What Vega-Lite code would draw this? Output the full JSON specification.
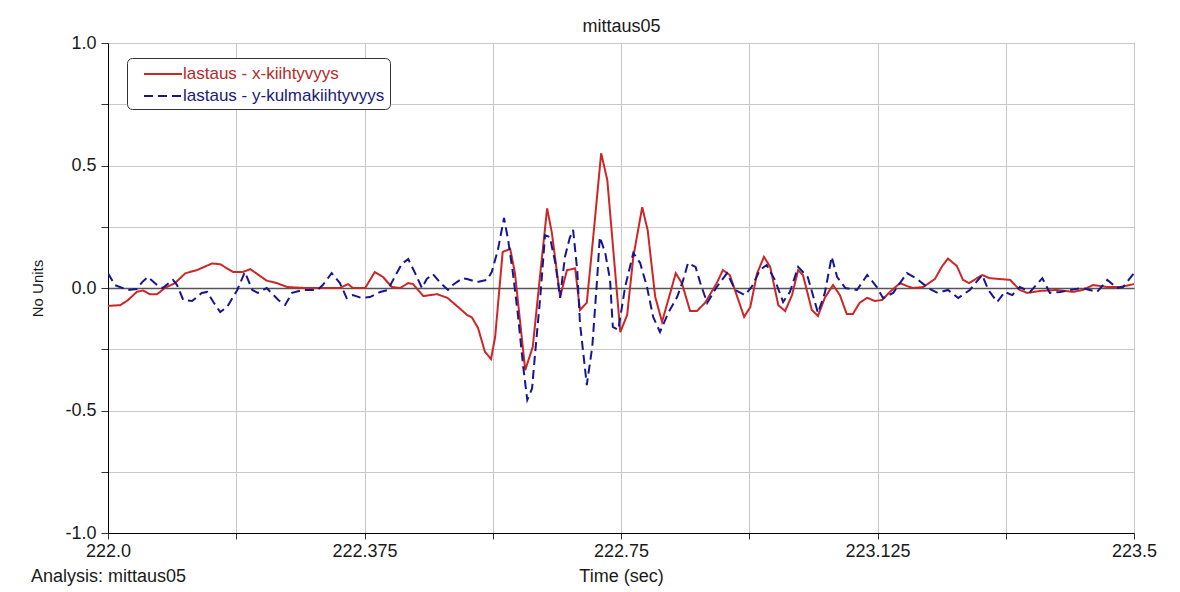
{
  "$schema": "https://vega.github.io/schema/vega-lite/v6.json",
  "autosize": {"type": "none"},
  "width": 1026,
  "height": 490,
  "padding": {"left": 108, "top": 43, "right": 46, "bottom": 59},
  "background": "white",
  "config": {
    "font": "Liberation Sans",
    "view": {"stroke": "#555555", "strokeWidth": 1},
    "axis": {"labelFont": "Liberation Sans", "titleFont": "Liberation Sans", "labelColor": "#1a1a1a", "titleColor": "#1a1a1a", "labelFontSize": 18, "titleFontSize": 18, "titleFontWeight": "normal", "gridColor": "#c8c8c8", "gridOpacity": 1, "gridWidth": 1, "domainColor": "#000000", "tickColor": "#333333"}
  },
  "title": {"text": "Analysis: mittaus05", "orient": "bottom", "anchor": "start", "frame": "bounds", "fontSize": 18, "fontWeight": "normal", "color": "#1a1a1a", "font": "Liberation Sans", "offset": -17},
  "datasets": {
    "red": [
      {"t": 222.000, "v": -0.073}, {"t": 222.018, "v": -0.07}, {"t": 222.029, "v": -0.05}, {"t": 222.042, "v": -0.016}, {"t": 222.051, "v": -0.01}, {"t": 222.061, "v": -0.025}, {"t": 222.072, "v": -0.025}, {"t": 222.083, "v": 0.0}, {"t": 222.098, "v": 0.02}, {"t": 222.113, "v": 0.06}, {"t": 222.130, "v": 0.073}, {"t": 222.152, "v": 0.1}, {"t": 222.164, "v": 0.097}, {"t": 222.183, "v": 0.065}, {"t": 222.197, "v": 0.065}, {"t": 222.208, "v": 0.077}, {"t": 222.232, "v": 0.03}, {"t": 222.247, "v": 0.02}, {"t": 222.262, "v": 0.004}, {"t": 222.288, "v": 0.0}, {"t": 222.339, "v": 0.0}, {"t": 222.351, "v": 0.016}, {"t": 222.358, "v": 0.0}, {"t": 222.376, "v": 0.0}, {"t": 222.390, "v": 0.065}, {"t": 222.402, "v": 0.045}, {"t": 222.415, "v": 0.004}, {"t": 222.427, "v": 0.0}, {"t": 222.439, "v": 0.02}, {"t": 222.446, "v": 0.016}, {"t": 222.461, "v": -0.033}, {"t": 222.481, "v": -0.025}, {"t": 222.496, "v": -0.04}, {"t": 222.510, "v": -0.073}, {"t": 222.525, "v": -0.11}, {"t": 222.532, "v": -0.12}, {"t": 222.541, "v": -0.163}, {"t": 222.551, "v": -0.26}, {"t": 222.560, "v": -0.29}, {"t": 222.566, "v": -0.2}, {"t": 222.577, "v": 0.147}, {"t": 222.588, "v": 0.16}, {"t": 222.595, "v": 0.06}, {"t": 222.610, "v": -0.335}, {"t": 222.621, "v": -0.24}, {"t": 222.632, "v": 0.06}, {"t": 222.642, "v": 0.325}, {"t": 222.649, "v": 0.224}, {"t": 222.661, "v": -0.036}, {"t": 222.671, "v": 0.073}, {"t": 222.683, "v": 0.08}, {"t": 222.690, "v": -0.09}, {"t": 222.700, "v": -0.06}, {"t": 222.709, "v": 0.196}, {"t": 222.721, "v": 0.55}, {"t": 222.730, "v": 0.44}, {"t": 222.749, "v": -0.18}, {"t": 222.759, "v": -0.11}, {"t": 222.768, "v": 0.127}, {"t": 222.781, "v": 0.33}, {"t": 222.789, "v": 0.236}, {"t": 222.800, "v": -0.036}, {"t": 222.810, "v": -0.138}, {"t": 222.822, "v": -0.02}, {"t": 222.830, "v": 0.06}, {"t": 222.839, "v": 0.02}, {"t": 222.851, "v": -0.094}, {"t": 222.861, "v": -0.094}, {"t": 222.873, "v": -0.06}, {"t": 222.890, "v": 0.02}, {"t": 222.899, "v": 0.073}, {"t": 222.909, "v": 0.053}, {"t": 222.920, "v": -0.036}, {"t": 222.930, "v": -0.118}, {"t": 222.939, "v": -0.078}, {"t": 222.949, "v": 0.06}, {"t": 222.959, "v": 0.127}, {"t": 222.968, "v": 0.087}, {"t": 222.980, "v": -0.07}, {"t": 222.990, "v": -0.094}, {"t": 223.000, "v": -0.029}, {"t": 223.009, "v": 0.073}, {"t": 223.016, "v": 0.053}, {"t": 223.029, "v": -0.09}, {"t": 223.038, "v": -0.114}, {"t": 223.048, "v": -0.04}, {"t": 223.060, "v": 0.012}, {"t": 223.070, "v": -0.029}, {"t": 223.080, "v": -0.106}, {"t": 223.089, "v": -0.106}, {"t": 223.099, "v": -0.06}, {"t": 223.110, "v": -0.04}, {"t": 223.121, "v": -0.053}, {"t": 223.132, "v": -0.049}, {"t": 223.143, "v": -0.016}, {"t": 223.158, "v": 0.02}, {"t": 223.168, "v": 0.008}, {"t": 223.177, "v": 0.0}, {"t": 223.192, "v": 0.004}, {"t": 223.209, "v": 0.037}, {"t": 223.219, "v": 0.087}, {"t": 223.228, "v": 0.12}, {"t": 223.241, "v": 0.09}, {"t": 223.250, "v": 0.033}, {"t": 223.259, "v": 0.02}, {"t": 223.278, "v": 0.053}, {"t": 223.289, "v": 0.04}, {"t": 223.319, "v": 0.033}, {"t": 223.333, "v": -0.008}, {"t": 223.344, "v": -0.02}, {"t": 223.363, "v": -0.012}, {"t": 223.387, "v": -0.008}, {"t": 223.411, "v": -0.016}, {"t": 223.425, "v": -0.008}, {"t": 223.440, "v": 0.012}, {"t": 223.461, "v": 0.004}, {"t": 223.480, "v": 0.004}, {"t": 223.500, "v": 0.016}
    ],
    "blue": [
      {"t": 222.000, "v": 0.06}, {"t": 222.010, "v": 0.012}, {"t": 222.029, "v": -0.008}, {"t": 222.042, "v": -0.004}, {"t": 222.050, "v": 0.024}, {"t": 222.058, "v": 0.045}, {"t": 222.072, "v": 0.012}, {"t": 222.080, "v": 0.0}, {"t": 222.095, "v": 0.033}, {"t": 222.101, "v": 0.012}, {"t": 222.110, "v": -0.049}, {"t": 222.123, "v": -0.053}, {"t": 222.137, "v": -0.02}, {"t": 222.145, "v": -0.016}, {"t": 222.154, "v": -0.057}, {"t": 222.164, "v": -0.098}, {"t": 222.174, "v": -0.078}, {"t": 222.189, "v": -0.008}, {"t": 222.200, "v": 0.065}, {"t": 222.211, "v": -0.008}, {"t": 222.219, "v": -0.02}, {"t": 222.232, "v": 0.0}, {"t": 222.249, "v": -0.049}, {"t": 222.259, "v": -0.069}, {"t": 222.269, "v": -0.02}, {"t": 222.285, "v": -0.008}, {"t": 222.306, "v": -0.008}, {"t": 222.314, "v": 0.012}, {"t": 222.327, "v": 0.061}, {"t": 222.339, "v": 0.02}, {"t": 222.349, "v": -0.041}, {"t": 222.358, "v": -0.029}, {"t": 222.371, "v": -0.041}, {"t": 222.383, "v": -0.037}, {"t": 222.398, "v": -0.016}, {"t": 222.409, "v": -0.008}, {"t": 222.423, "v": 0.065}, {"t": 222.430, "v": 0.1}, {"t": 222.439, "v": 0.118}, {"t": 222.449, "v": 0.061}, {"t": 222.459, "v": 0.0}, {"t": 222.466, "v": 0.037}, {"t": 222.475, "v": 0.057}, {"t": 222.485, "v": 0.024}, {"t": 222.497, "v": -0.008}, {"t": 222.504, "v": 0.012}, {"t": 222.518, "v": 0.04}, {"t": 222.525, "v": 0.037}, {"t": 222.539, "v": 0.024}, {"t": 222.554, "v": 0.033}, {"t": 222.561, "v": 0.065}, {"t": 222.570, "v": 0.155}, {"t": 222.579, "v": 0.286}, {"t": 222.585, "v": 0.196}, {"t": 222.592, "v": 0.061}, {"t": 222.599, "v": -0.102}, {"t": 222.607, "v": -0.32}, {"t": 222.613, "v": -0.457}, {"t": 222.620, "v": -0.41}, {"t": 222.624, "v": -0.28}, {"t": 222.632, "v": -0.036}, {"t": 222.639, "v": 0.216}, {"t": 222.646, "v": 0.208}, {"t": 222.654, "v": 0.102}, {"t": 222.661, "v": -0.04}, {"t": 222.668, "v": 0.127}, {"t": 222.675, "v": 0.204}, {"t": 222.680, "v": 0.237}, {"t": 222.686, "v": 0.073}, {"t": 222.690, "v": -0.143}, {"t": 222.697, "v": -0.32}, {"t": 222.700, "v": -0.396}, {"t": 222.708, "v": -0.24}, {"t": 222.715, "v": 0.033}, {"t": 222.719, "v": 0.208}, {"t": 222.727, "v": 0.143}, {"t": 222.734, "v": 0.033}, {"t": 222.738, "v": -0.159}, {"t": 222.746, "v": -0.171}, {"t": 222.756, "v": 0.004}, {"t": 222.768, "v": 0.143}, {"t": 222.778, "v": 0.102}, {"t": 222.788, "v": 0.004}, {"t": 222.797, "v": -0.118}, {"t": 222.807, "v": -0.18}, {"t": 222.819, "v": -0.102}, {"t": 222.832, "v": -0.037}, {"t": 222.841, "v": 0.033}, {"t": 222.848, "v": 0.102}, {"t": 222.859, "v": 0.086}, {"t": 222.866, "v": 0.02}, {"t": 222.876, "v": -0.061}, {"t": 222.890, "v": 0.004}, {"t": 222.905, "v": 0.061}, {"t": 222.917, "v": -0.008}, {"t": 222.931, "v": -0.029}, {"t": 222.941, "v": 0.004}, {"t": 222.953, "v": 0.073}, {"t": 222.963, "v": 0.094}, {"t": 222.975, "v": 0.033}, {"t": 222.987, "v": -0.057}, {"t": 222.997, "v": -0.016}, {"t": 223.009, "v": 0.086}, {"t": 223.023, "v": 0.045}, {"t": 223.038, "v": -0.102}, {"t": 223.048, "v": -0.02}, {"t": 223.058, "v": 0.127}, {"t": 223.066, "v": 0.045}, {"t": 223.078, "v": 0.0}, {"t": 223.095, "v": -0.008}, {"t": 223.110, "v": 0.053}, {"t": 223.124, "v": 0.004}, {"t": 223.133, "v": -0.041}, {"t": 223.148, "v": -0.02}, {"t": 223.168, "v": 0.061}, {"t": 223.183, "v": 0.037}, {"t": 223.199, "v": 0.0}, {"t": 223.213, "v": -0.02}, {"t": 223.228, "v": -0.008}, {"t": 223.243, "v": -0.041}, {"t": 223.260, "v": -0.008}, {"t": 223.278, "v": 0.053}, {"t": 223.287, "v": -0.008}, {"t": 223.300, "v": -0.057}, {"t": 223.311, "v": -0.016}, {"t": 223.322, "v": -0.029}, {"t": 223.333, "v": 0.004}, {"t": 223.348, "v": -0.016}, {"t": 223.366, "v": 0.04}, {"t": 223.377, "v": -0.02}, {"t": 223.392, "v": -0.016}, {"t": 223.424, "v": 0.0}, {"t": 223.446, "v": -0.016}, {"t": 223.461, "v": 0.033}, {"t": 223.475, "v": 0.0}, {"t": 223.484, "v": 0.004}, {"t": 223.500, "v": 0.061}
    ]
  },
  "resolve": {"axis": {"x": "independent"}},
  "layer": [
    {
      "data": {"name": "red"},
      "transform": [{"calculate": "'lastaus - x-kiihtyvyys'", "as": "series"}],
      "mark": {"type": "line", "strokeWidth": 2, "clip": true},
      "encoding": {
        "x": {"field": "t", "type": "quantitative", "title": "Time (sec)",
          "scale": {"domain": [222, 223.5], "nice": false, "zero": false},
          "axis": {"values": [222, 222.1875, 222.375, 222.5625, 222.75, 222.9375, 223.125, 223.3125, 223.5],
            "labelExpr": "datum.value == 222 ? '222.0' : datum.value == 222.375 ? '222.375' : datum.value == 222.75 ? '222.75' : datum.value == 223.125 ? '223.125' : datum.value == 223.5 ? '223.5' : ''",
            "grid": true, "tickSize": 6, "labelPadding": 3, "titlePadding": 7, "labelFlush": false, "labelOverlap": false}},
        "y": {"field": "v", "type": "quantitative", "title": "No Units",
          "scale": {"domain": [-1, 1], "nice": false},
          "axis": {"values": [-1, -0.75, -0.5, -0.25, 0, 0.25, 0.5, 0.75, 1],
            "labelExpr": "abs(datum.value * 2 - round(datum.value * 2)) < 0.001 ? (datum.value < 0 ? '-' : '') + format(abs(datum.value), '.1f') : ''",
            "grid": true,
            "gridColor": {"condition": {"test": "datum.value == 0", "value": "#555555"}, "value": "#c8c8c8"},
            "gridWidth": {"condition": {"test": "datum.value == 0", "value": 1.5}, "value": 1},
            "tickSize": 7, "labelPadding": 5, "titlePadding": 19, "titleFontSize": 15, "labelOverlap": false}},
        "color": {"field": "series", "type": "nominal",
          "scale": {"domain": ["lastaus - x-kiihtyvyys", "lastaus - y-kulmakiihtyvyys"], "range": ["#cc2626", "#16168f"]},
          "legend": {"title": null, "orient": "none", "legendX": 19, "legendY": 15, "symbolType": "M0.1,0H3.9", "symbolSize": 400, "symbolStrokeWidth": 2,
            "labelFont": "Liberation Sans", "labelFontSize": 17, "labelOffset": 29, "labelLimit": 500, "rowPadding": 3, "padding": 5,
            "strokeColor": "#333333", "fillColor": "white", "cornerRadius": 5,
            "labelColor": {"expr": "datum.label == 'lastaus - x-kiihtyvyys' ? '#b52a2a' : '#1a1a7a'"}}},
        "strokeDash": {"field": "series", "type": "nominal",
          "scale": {"domain": ["lastaus - x-kiihtyvyys", "lastaus - y-kulmakiihtyvyys"], "range": [[1, 0], [9, 5]]},
          "legend": {"title": null, "orient": "none", "legendX": 19, "legendY": 15, "symbolType": "M0.1,0H3.9", "symbolSize": 400, "symbolStrokeWidth": 2,
            "labelFont": "Liberation Sans", "labelFontSize": 17, "labelOffset": 29, "labelLimit": 500, "rowPadding": 3, "padding": 5,
            "strokeColor": "#333333", "fillColor": "white", "cornerRadius": 5,
            "labelColor": {"expr": "datum.label == 'lastaus - x-kiihtyvyys' ? '#b52a2a' : '#1a1a7a'"}}}
      }
    },
    {
      "data": {"name": "blue"},
      "transform": [{"calculate": "'lastaus - y-kulmakiihtyvyys'", "as": "series"}],
      "mark": {"type": "line", "strokeWidth": 2, "clip": true},
      "encoding": {
        "x": {"field": "t", "type": "quantitative", "title": "mittaus05",
          "scale": {"domain": [222, 223.5], "nice": false, "zero": false},
          "axis": {"orient": "top", "labels": false, "ticks": false, "domain": false, "grid": false, "titlePadding": 8}},
        "y": {"field": "v", "type": "quantitative"},
        "color": {"field": "series", "type": "nominal"},
        "strokeDash": {"field": "series", "type": "nominal"}
      }
    }
  ]
}
